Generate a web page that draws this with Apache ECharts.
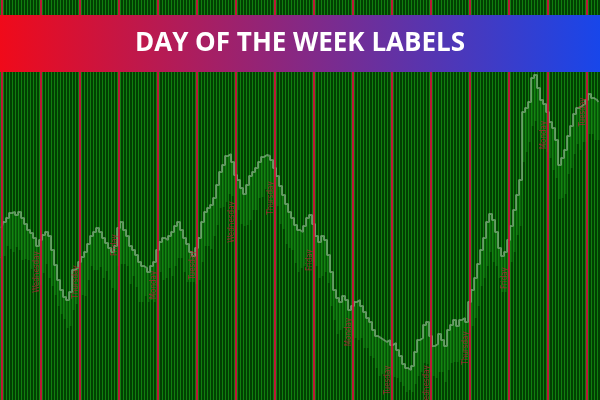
<!DOCTYPE html>
<html><head><meta charset="utf-8">
<script src="https://cdn.jsdelivr.net/npm/echarts/dist/echarts.min.js"></script>
<style>html,body{margin:0;padding:0;background:#024002}#c{width:600px;height:400px}</style>
</head><body><div id="c"></div>
<script>
const titleText = 'DAY OF THE WEEK LABELS';
const highs = [
172,178,182,187,188,185,188,182,176,170,
167,162,154,160,165,168,164,150,135,120,
110,103,100,108,130,132,138,143,148,156,
164,168,172,168,162,157,152,148,154,172,
178,170,164,154,150,145,138,134,132,128,
134,138,150,158,162,160,164,168,174,178,
170,162,156,148,144,152,162,178,188,192,
195,202,215,228,235,244,246,238,225,220,
212,206,215,224,228,232,238,243,245,244,
240,232,224,214,205,196,188,182,175,170,
168,174,182,185,176,164,158,164,160,145,
128,110,102,98,104,100,90,94,98,100,
94,88,82,78,70,64,62,60,58,60,
55,57,50,44,36,32,30,34,48,60,
62,75,78,64,54,56,66,60,54,70,
75,80,74,80,82,78,98,110,122,136,
150,162,178,186,180,168,152,144,148,160,
174,190,205,220,288,292,298,322,325,312,
300,296,288,278,272,260,235,242,250,264,
274,286,292,294,296,300,306,302,300,298];
const lows = [
142,144,154,151,148,153,150,140,141,140,
131,134,114,115,127,136,122,114,105,94,
86,81,72,74,90,96,108,105,104,120,
134,130,130,133,122,129,120,112,110,134,
136,136,134,116,124,113,98,98,104,98,
100,98,114,128,120,122,132,124,134,142,
142,128,118,118,118,116,120,138,154,154,
151,164,175,192,193,198,206,204,187,190,
176,174,175,180,190,190,202,203,211,206,
198,196,194,176,171,156,152,150,137,128,
132,134,148,143,138,134,122,124,128,117,
94,80,66,70,72,62,56,64,62,60,
62,52,52,44,42,32,24,26,28,24,
25,23,22,18,14,8,10,8,16,24,
28,37,36,28,24,22,28,28,18,30,
37,38,38,40,48,40,68,74,82,94,
114,122,134,148,138,134,122,108,108,122,
138,148,165,174,238,248,258,274,279,270,
262,252,248,242,230,222,201,202,206,226,
232,246,256,250,258,258,266,266,260,260];
const daySeparators = [0,13,26,39,52,65,78,91,104,117,130,143,156,169,182,195];
const dayLabels = ['Tuesday','Wednesday','Thursday','Friday','Monday','Tuesday','Wednesday','Thursday','Friday','Monday','Tuesday','Wednesday','Thursday','Friday','Monday','Tuesday'];
const labelPrices = [130,128,118,155,115,135,178,202,140,68,20,14,52,122,265,288];
const categories = highs.map((_, i) => 'Bar ' + (i + 1));

const chart = echarts.init(document.getElementById('c'), null, {renderer: 'canvas'});
chart.setOption({
  animation: false,
  backgroundColor: '#024002',
  grid: {left: 0, right: 0, top: 0, bottom: 0},
  xAxis: {
    type: 'category', data: categories, boundaryGap: true,
    axisLine: {show: false}, axisTick: {show: false}, axisLabel: {show: false},
    splitLine: {show: true, interval: 0, lineStyle: {color: '#10800f', width: 1}}
  },
  yAxis: {
    type: 'value', min: 0, max: 400,
    axisLine: {show: false}, axisTick: {show: false}, axisLabel: {show: false},
    splitLine: {show: false}
  },
  series: [
    {
      type: 'candlestick', barWidth: 3,
      data: highs.map((h, i) => [lows[i], h, lows[i], h]),
      itemStyle: {color: 'rgba(30,160,30,0.38)', color0: 'rgba(30,160,30,0.38)', borderColor: 'rgba(30,160,30,0.38)', borderColor0: 'rgba(30,160,30,0.38)', borderWidth: 0},
      silent: true
    },
    {
      type: 'line', step: 'middle', data: highs, symbol: 'none', silent: true,
      lineStyle: {color: 'rgba(180,205,180,0.5)', width: 2},
      z: 3,
      markLine: {
        silent: true, symbol: 'none', animation: false,
        label: {show: false},
        lineStyle: {color: '#d0143e', width: 2, type: 'solid', opacity: 0.9},
        data: daySeparators.map(i => ({xAxis: i}))
      }
    },
    {
      type: 'scatter', symbolSize: 1, silent: true, z: 10,
      itemStyle: {color: 'rgba(0,0,0,0)'},
      labelLayout: {hideOverlap: false},
      data: daySeparators.map((d, i) => ({value: [d, labelPrices[i]], name: dayLabels[i]})),
      label: {
        show: true, formatter: p => p.name, rotate: 90, position: 'inside',
        align: 'center', verticalAlign: 'bottom', offset: [-2, 0],
        color: '#b8203a', fontSize: 8, fontFamily: 'DejaVu Sans Condensed'
      }
    }
  ],
  graphic: [
    {
      type: 'rect', z: 100, shape: {x: 0, y: 15, width: 600, height: 57},
      style: {fill: new echarts.graphic.LinearGradient(0, 0, 1, 0, [
        {offset: 0, color: '#f00a1a'}, {offset: 0.5, color: '#862884'}, {offset: 1, color: '#1846ea'}])}
    },
    {
      type: 'text', z: 101, x: 300, y: 44,
      style: {text: titleText, fill: '#ffffff', font: 'bold 26px "Open Sans"', align: 'center', verticalAlign: 'middle'}
    }
  ]
});
</script></body></html>
